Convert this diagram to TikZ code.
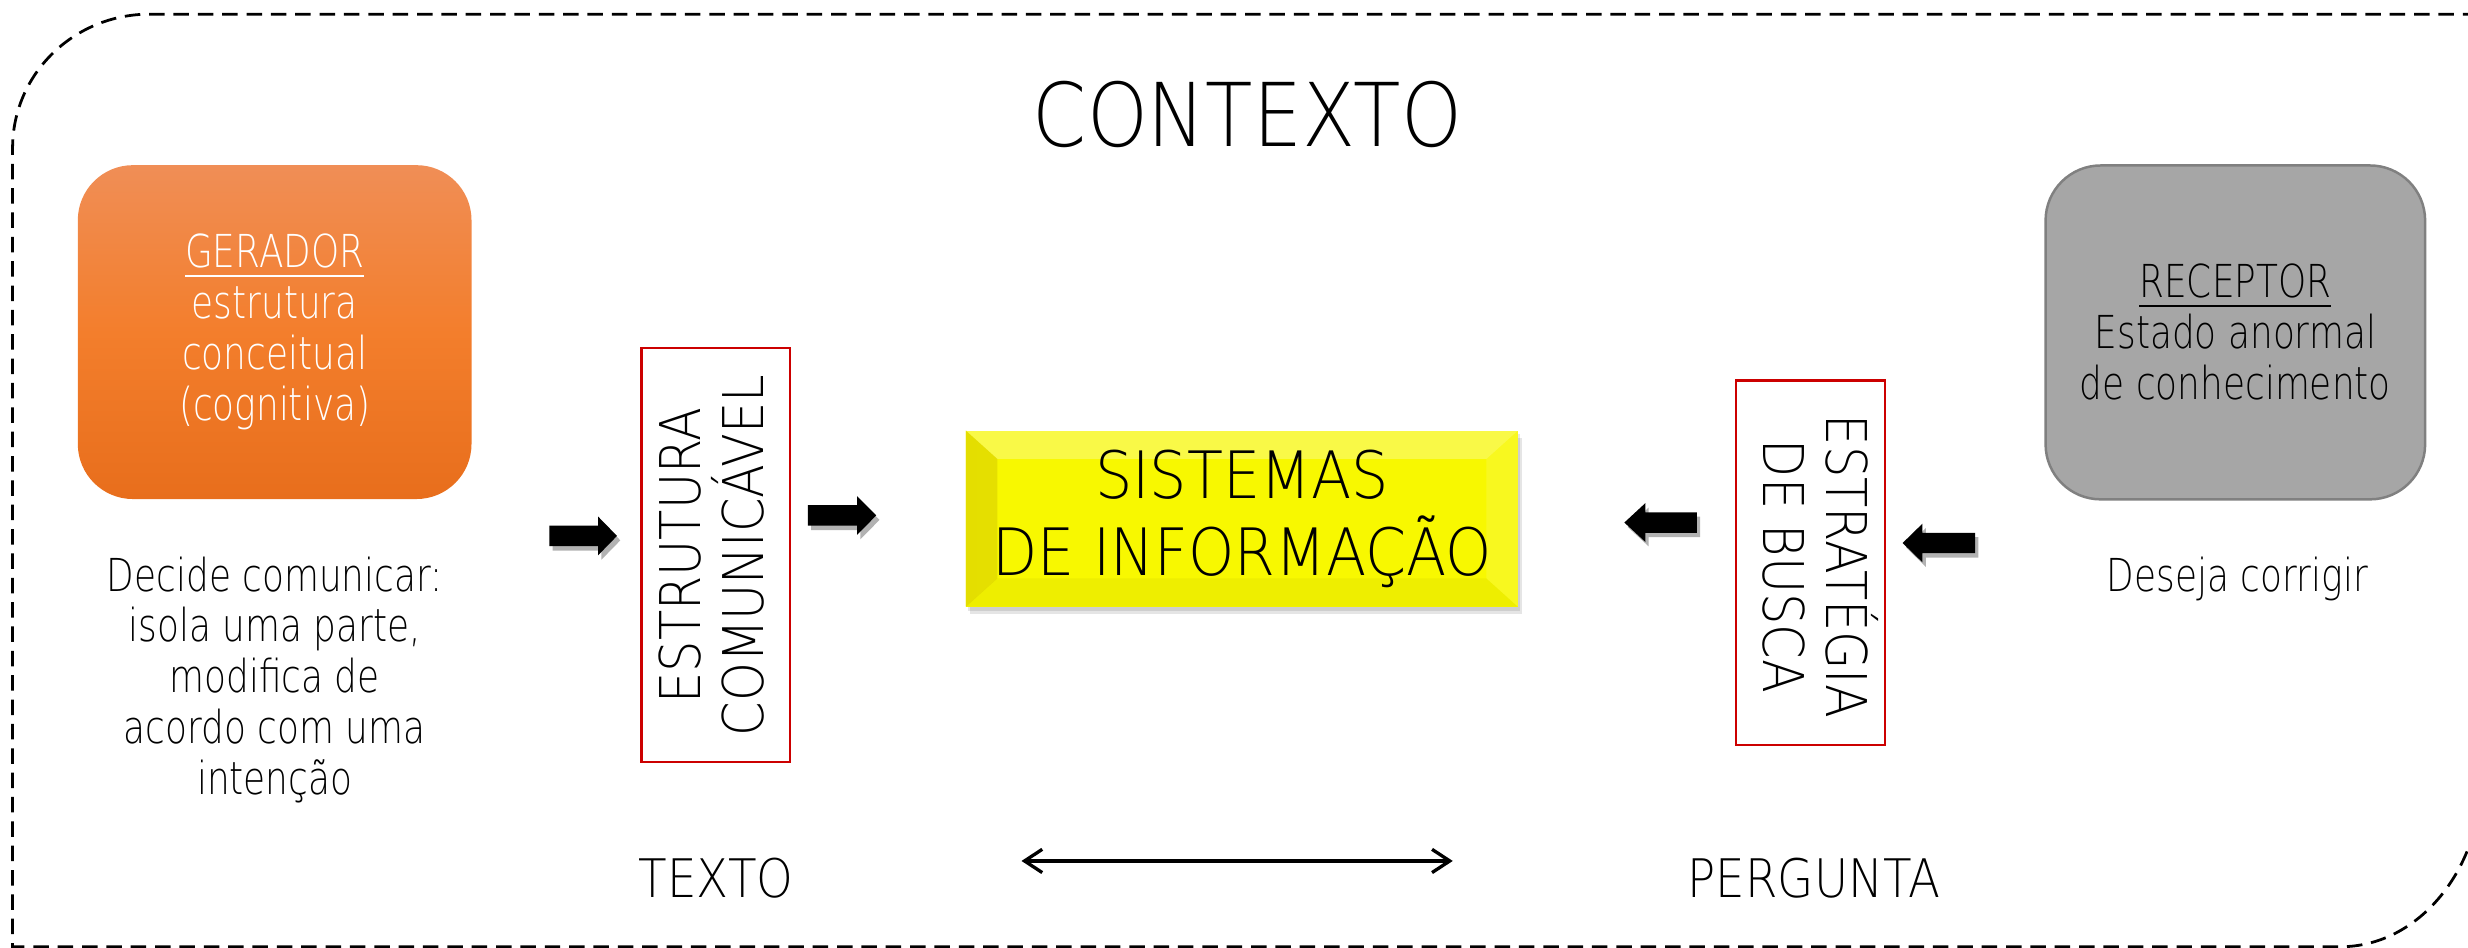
\documentclass[tikz,border=0pt]{standalone}
\usepackage{fontspec}
\setmainfont{DejaVu Sans ExtraLight}
\newfontfamily\fcond[FakeStretch=0.79]{DejaVu Sans ExtraLight}
\newfontfamily\fcaps[FakeStretch=0.88]{DejaVu Sans ExtraLight}
\newfontfamily\fcapsw[FakeStretch=0.9]{DejaVu Sans ExtraLight}
\usetikzlibrary{arrows.meta,shadows}
\definecolor{orTop}{RGB}{240,142,86}
\definecolor{orMid}{RGB}{243,126,44}
\definecolor{orBot}{RGB}{232,110,28}
\definecolor{grayBox}{RGB}{166,166,166}
\definecolor{grayLine}{RGB}{128,128,128}
\definecolor{redLine}{RGB}{204,0,0}
\definecolor{yel}{RGB}{248,248,0}
\definecolor{yelDark}{RGB}{228,222,0}
\tikzset{
  outerline/.style={draw=black, line width=0.5pt, dash pattern=on 2.8pt off 1.6pt},
  bigbox/.style={rounded corners=0.35cm, minimum height=2.12cm, inner sep=0pt, align=center,
    font={\fcond\fontsize{8.2pt}{9.2pt}\selectfont}},
  gerbox/.style={bigbox, minimum width=2.5cm, text=white, top color=orTop, bottom color=orBot, middle color=orMid},
  recbox/.style={bigbox, minimum width=2.41cm, fill=grayBox, draw=grayLine, line width=0.45pt, text=black},
  plaintxt/.style={align=center, inner sep=0pt, font={\fcond\fontsize{8.2pt}{9.2pt}\selectfont}},
  redbox/.style={draw=redLine, line width=0.45pt, fill=white, inner sep=0pt},
  vtext/.style={align=center, inner sep=0pt, font={\fcaps\fontsize{10.15pt}{11.4pt}\selectfont}},
  capstxt/.style={inner sep=0pt, font={\fcaps\fontsize{9.6pt}{11pt}\selectfont}},
  yelbox/.style={fill=yel, inner sep=0pt, minimum width=3.504cm, minimum height=1.118cm, align=center,
    font={\fcapsw\fontsize{11.8pt}{13.9pt}\selectfont}},
  blockarr/.style={fill=black, drop shadow={shadow xshift=0.6pt, shadow yshift=-0.8pt, opacity=0.3, fill=black}},
  dblarrow/.style={line width=0.6pt, {Straight Barb[length=3.2pt,width=4.2pt]}-{Straight Barb[length=3.2pt,width=4.2pt]}}
}
\newcommand{\myblockarrow}[4]{%
  \fill[blockarr] (#1,#4-6.5) -- (#2,#4-6.5) -- (#2,#4-12.3) -- (#3,#4) -- (#2,#4+12.3) -- (#2,#4+6.5) -- (#1,#4+6.5) -- cycle;}
\begin{document}
\begin{tikzpicture}[x=0.01cm,y=-0.01cm]
\useasboundingbox (0,0) rectangle (1568,602.3);
\begin{scope}
\clip (0,0) rectangle (1568,602.3);
\draw[outerline] (1590,9) -- (95,9) arc[start angle=270,end angle=180,x radius=87,y radius=85]
  -- (8,601.5) -- (1487,601.5) arc[start angle=90,end angle=0,x radius=90,y radius=110] -- (1577,-10);
\end{scope}

% title
\node[capstxt, anchor=base, font={\fcaps\fontsize{15.9pt}{18pt}\selectfont}] (ctx) at (792.6,93.2) {CONTEXTO};

% generator and receiver
\node[gerbox] (ger) at (174.5,211) {\underline{GERADOR}\\estrutura\\conceitual\\(cognitiva)};
\node[recbox] (rec) at (1420.2,211.2) {\underline{RECEPTOR}\\Estado anormal\\de conhecimento};
\node[plaintxt] (dec) at (174.5,432) {Decide comunicar:\\isola uma parte,\\modifica de\\acordo com uma\\intenção};
\node[plaintxt, anchor=base] (des) at (1421.5,376) {Deseja corrigir};

% vertical boxes
\node[redbox, minimum width=0.944cm, minimum height=2.627cm] (ecbox) at (454.8,352.65) {};
\node[vtext, rotate=90] (ectxt) at (452.2,353) {ESTRUTURA\\COMUNICÁVEL};
\node[redbox, minimum width=0.947cm, minimum height=2.314cm] (ebbox) at (1150.25,357.6) {};
\node[vtext, rotate=-90] (ebtxt) at (1156.8,360) {ESTRATÉGIA\\DE BUSCA};

% central yellow box
\fill[black, opacity=0.10] (616,278) rectangle (967,390);
\fill[black, opacity=0.10] (615,276) rectangle (966,388);
\node[yelbox, path picture={
   \fill[left color=yelDark, right color=yel]
     (path picture bounding box.north west) -- ([shift={(20,18)}]path picture bounding box.north west)
     -- ([shift={(20,-18)}]path picture bounding box.south west) -- (path picture bounding box.south west) -- cycle;
   \fill[white, opacity=0.28]
     (path picture bounding box.north west) -- (path picture bounding box.north east)
     -- ([shift={(-20,18)}]path picture bounding box.north east) -- ([shift={(20,18)}]path picture bounding box.north west) -- cycle;
   \fill[white, opacity=0.12]
     (path picture bounding box.north east) -- (path picture bounding box.south east)
     -- ([shift={(-20,-18)}]path picture bounding box.south east) -- ([shift={(-20,18)}]path picture bounding box.north east) -- cycle;
   \fill[black, opacity=0.04]
     (path picture bounding box.south west) -- (path picture bounding box.south east)
     -- ([shift={(-20,-18)}]path picture bounding box.south east) -- ([shift={(20,-18)}]path picture bounding box.south west) -- cycle;
 }] (si) at (789,329.5) {SISTEMAS\\DE INFORMAÇÃO};

% block arrows
\myblockarrow{349}{380}{392}{340.5}
\myblockarrow{513.3}{544.5}{556.7}{327.5}
\myblockarrow{1078}{1045.3}{1032}{332}
\myblockarrow{1254.8}{1221.4}{1208.8}{345}

% bottom labels
\node[capstxt, anchor=base] (txt) at (455,570) {TEXTO};
\node[capstxt, anchor=base] (per) at (1152.5,570) {PERGUNTA};
\coordinate (dl) at (649,547);
\coordinate (dr) at (923,547);
\draw[dblarrow] (dl) -- (dr);
\end{tikzpicture}
\end{document}
